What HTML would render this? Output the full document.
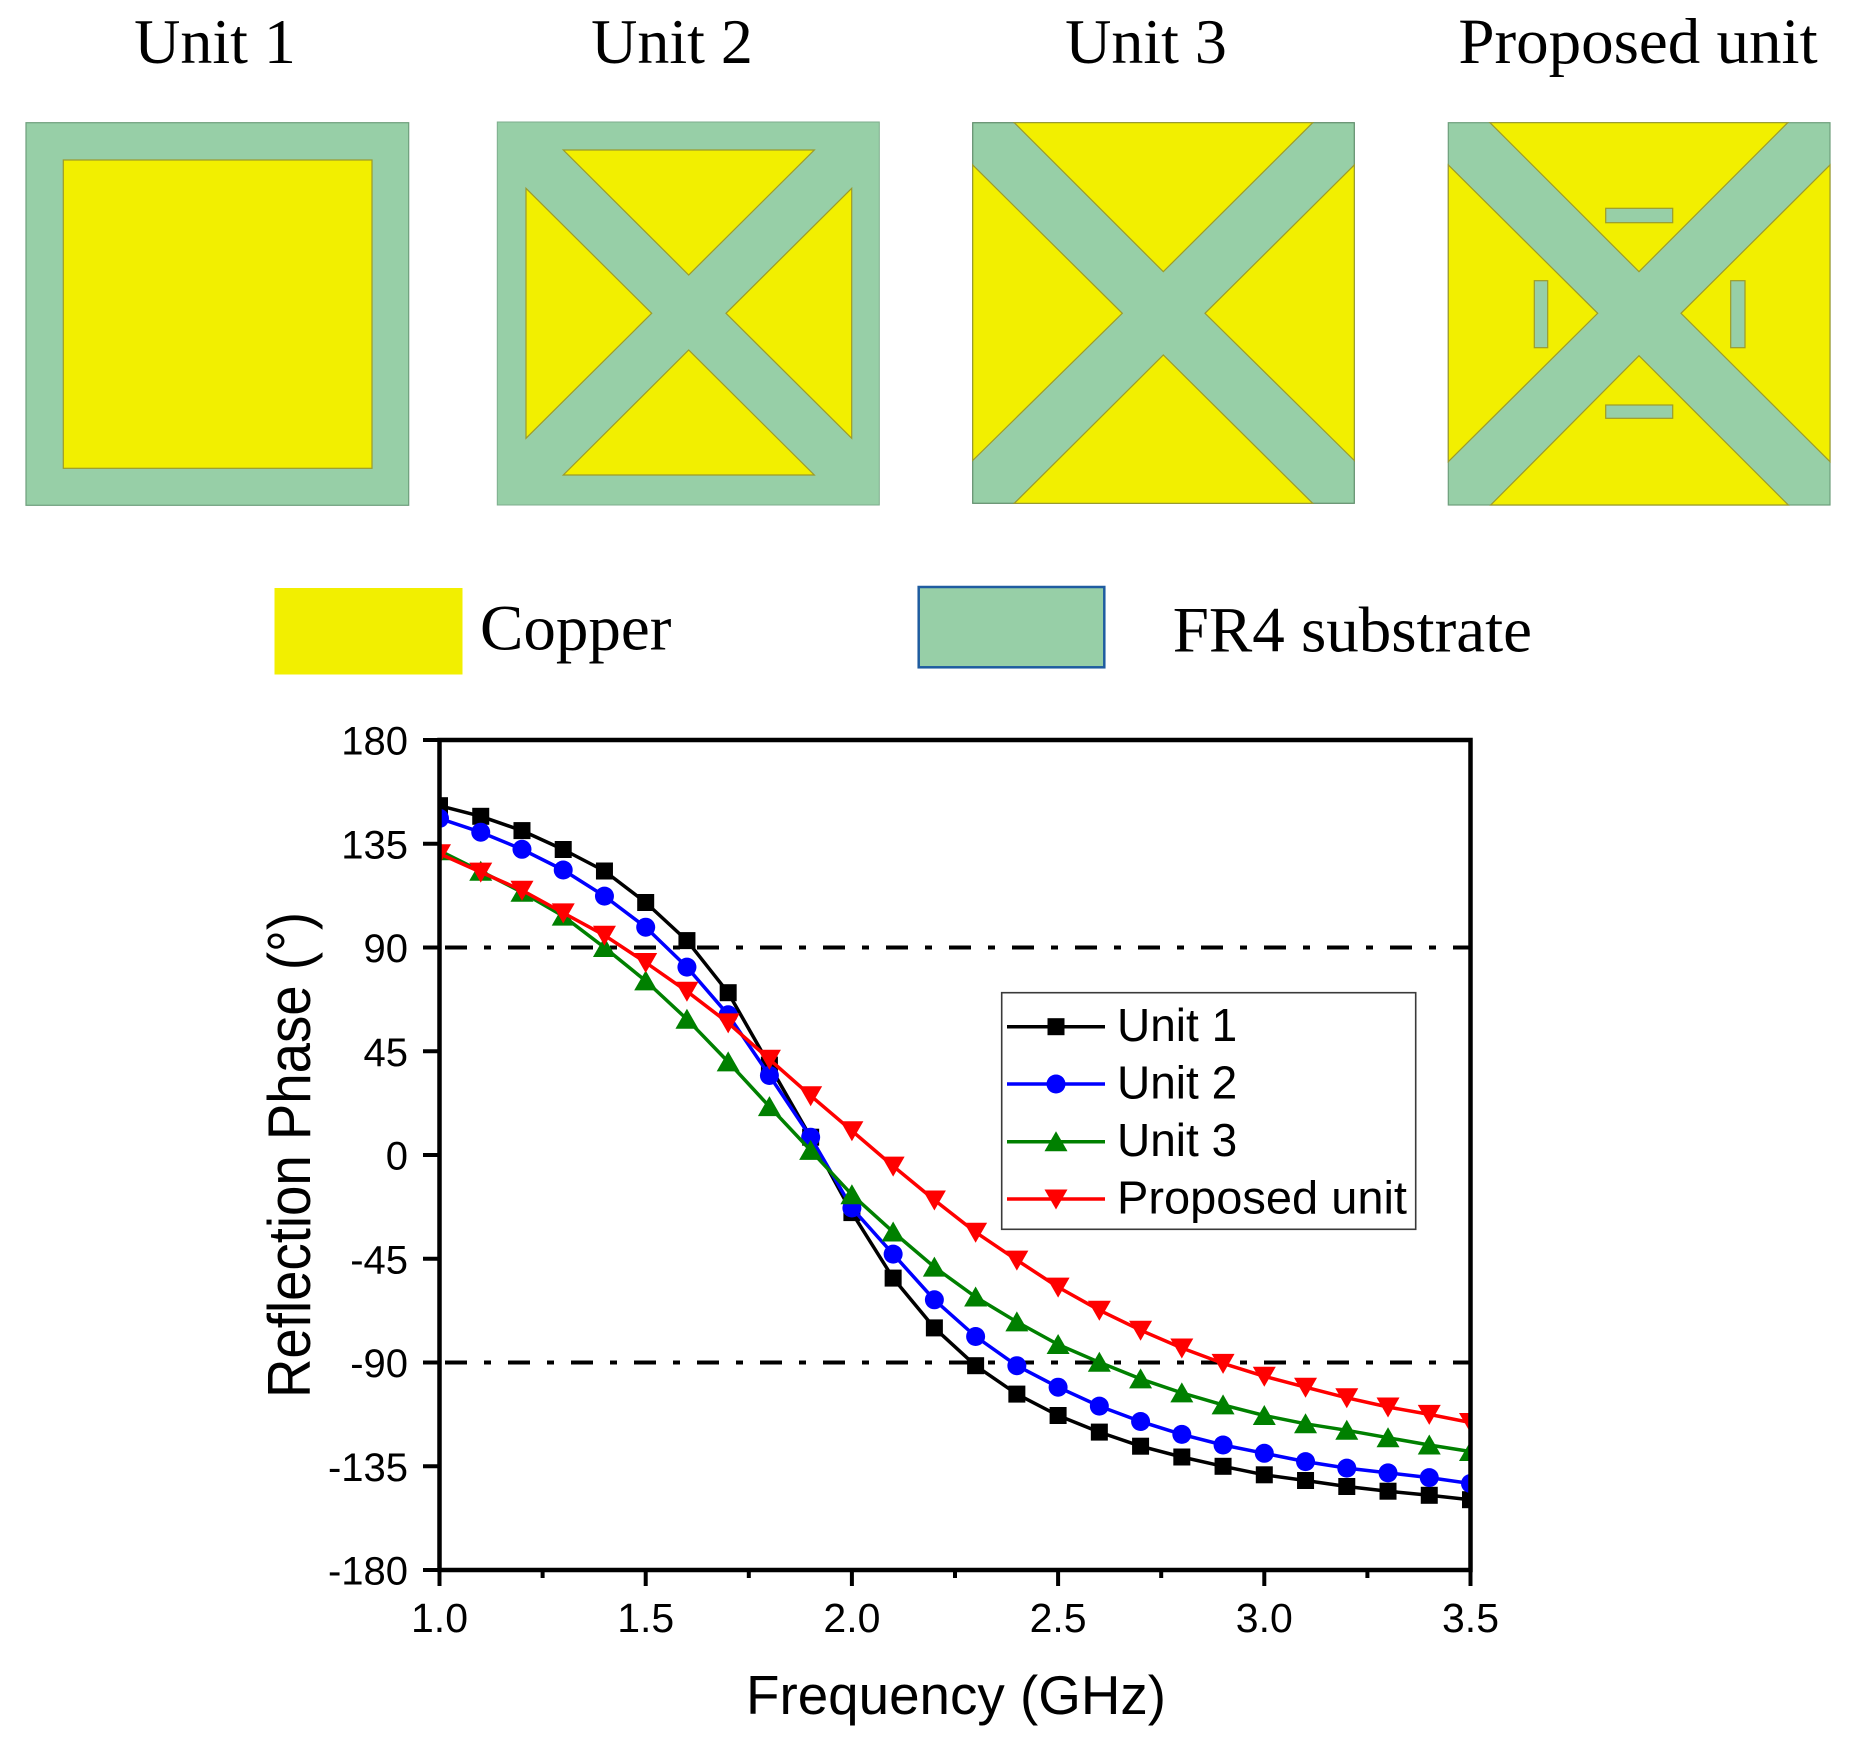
<!DOCTYPE html>
<html>
<head>
<meta charset="utf-8">
<style>
html,body{margin:0;padding:0;background:#fff;}
svg{display:block;}
</style>
</head>
<body>
<svg width="1855" height="1741" viewBox="0 0 1855 1741" xmlns="http://www.w3.org/2000/svg">
<defs>
  <rect id="sq" x="-8.5" y="-8.5" width="17" height="17" fill="#000"/>
  <circle id="ci" cx="0" cy="0" r="9.5" fill="#0000FF"/>
  <polygon id="tu" points="0,-10.5 11.5,9.5 -11.5,9.5" fill="#008000"/>
  <polygon id="td" points="-11.5,-9.5 11.5,-9.5 0,10.5" fill="#FF0000"/>
  <clipPath id="pc"><rect x="439.5" y="740" width="1031" height="830"/></clipPath>
</defs>
<rect x="0" y="0" width="1855" height="1741" fill="#fff"/>

<!-- ===== Top panel: unit cells ===== -->
<g font-family="'Liberation Serif', 'Times New Roman', serif" font-size="64" fill="#000" text-anchor="middle">
  <text x="215" y="63">Unit 1</text>
  <text x="672" y="63">Unit 2</text>
  <text x="1146" y="63">Unit 3</text>
  <text x="1638" y="63" font-size="65">Proposed unit</text>
</g>

<!-- Unit 1 -->
<rect x="26" y="122.7" width="382.7" height="382.6" fill="#97CFA7" stroke="#6E9E7C" stroke-width="1.2"/>
<rect x="63.3" y="160" width="308.7" height="308.3" fill="#F2EF00" stroke="#9C9A2A" stroke-width="1.2"/>

<!-- Unit 2 -->
<rect x="497.3" y="122" width="382" height="383" fill="#97CFA7" stroke="#7EAE8C" stroke-width="1"/>
<g fill="#F2EF00" stroke="#9C9A2A" stroke-width="1.2">
  <polygon points="563.3,150 814.3,150 688.7,275"/>
  <polygon points="526,188.3 526,438.3 651.7,313.3"/>
  <polygon points="851.7,188.3 851.7,438.3 726,313.3"/>
  <polygon points="563.3,475 814.3,475 688.7,350"/>
</g>

<!-- Unit 3 -->
<rect x="972.7" y="122.7" width="381.6" height="380.6" fill="#97CFA7" stroke="#5E8C6A" stroke-width="1.2"/>
<g fill="#F2EF00" stroke="#9C9A2A" stroke-width="1.2">
  <polygon points="1014.3,122.7 1312.7,122.7 1163.3,271.7"/>
  <polygon points="972.7,165 972.7,460.5 1122.3,313.3"/>
  <polygon points="1354.3,165 1354.3,460.5 1205,313.3"/>
  <polygon points="1014.3,503.3 1312.7,503.3 1163.3,355"/>
</g>

<!-- Proposed unit -->
<rect x="1448.3" y="122.7" width="381.7" height="382.3" fill="#97CFA7" stroke="#6E9E7C" stroke-width="1.2"/>
<g fill="#F2EF00" stroke="#9C9A2A" stroke-width="1.2">
  <polygon points="1490,122.7 1787.7,122.7 1639,271.7"/>
  <polygon points="1448.3,165 1448.3,461.7 1597.7,313.3"/>
  <polygon points="1830,165 1830,461.7 1681,313.3"/>
  <polygon points="1490.7,505 1788.3,505 1639,355.7"/>
</g>
<g fill="#97CFA7" stroke="#9C9A2A" stroke-width="1.2">
  <rect x="1605.7" y="208.3" width="67" height="14.4"/>
  <rect x="1605.7" y="405" width="67" height="13.3"/>
  <rect x="1534.3" y="280.7" width="13.4" height="67"/>
  <rect x="1730.7" y="280.7" width="14.3" height="67"/>
</g>

<!-- Material legend -->
<rect x="274.5" y="588" width="188" height="86.5" fill="#F2EF00"/>
<text x="480" y="649.5" font-family="'Liberation Serif', 'Times New Roman', serif" font-size="65" fill="#000">Copper</text>
<rect x="918.7" y="587" width="185.6" height="80.3" fill="#97CFA7" stroke="#1F5CA0" stroke-width="2.5"/>
<text x="1172.7" y="651.7" font-family="'Liberation Serif', 'Times New Roman', serif" font-size="65" fill="#000">FR4 substrate</text>

<!-- ===== Chart ===== -->
<g stroke="#000" stroke-width="4" stroke-dasharray="22 17 7 17" stroke-dashoffset="57.5" fill="none">
  <line x1="439.5" y1="947.5" x2="1470.5" y2="947.5"/>
  <line x1="439.5" y1="1362.5" x2="1470.5" y2="1362.5"/>
</g>

<g clip-path="url(#pc)">
  <polyline fill="none" stroke="#000" stroke-width="3.5" stroke-linejoin="round" points="439.5,805.7 480.74,816.3 521.98,830.6 563.22,849.5 604.46,871.0 645.7,902.5 686.94,940.6 728.18,992.7 769.42,1065.1 810.66,1137.2 851.9,1212.6 893.14,1278.1 934.38,1327.9 975.62,1365.7 1016.86,1394.1 1058.1,1415.5 1099.34,1432.1 1140.58,1446.2 1181.82,1457.0 1223.06,1466.3 1264.3,1474.8 1305.54,1480.5 1346.78,1486.5 1388.02,1491.2 1429.26,1495.3 1470.5,1499.7"/>
  <g>
    <use href="#sq" x="439.5" y="805.7"/><use href="#sq" x="480.74" y="816.3"/><use href="#sq" x="521.98" y="830.6"/><use href="#sq" x="563.22" y="849.5"/><use href="#sq" x="604.46" y="871.0"/><use href="#sq" x="645.7" y="902.5"/><use href="#sq" x="686.94" y="940.6"/><use href="#sq" x="728.18" y="992.7"/><use href="#sq" x="769.42" y="1065.1"/><use href="#sq" x="810.66" y="1137.2"/><use href="#sq" x="851.9" y="1212.6"/><use href="#sq" x="893.14" y="1278.1"/><use href="#sq" x="934.38" y="1327.9"/><use href="#sq" x="975.62" y="1365.7"/><use href="#sq" x="1016.86" y="1394.1"/><use href="#sq" x="1058.1" y="1415.5"/><use href="#sq" x="1099.34" y="1432.1"/><use href="#sq" x="1140.58" y="1446.2"/><use href="#sq" x="1181.82" y="1457.0"/><use href="#sq" x="1223.06" y="1466.3"/><use href="#sq" x="1264.3" y="1474.8"/><use href="#sq" x="1305.54" y="1480.5"/><use href="#sq" x="1346.78" y="1486.5"/><use href="#sq" x="1388.02" y="1491.2"/><use href="#sq" x="1429.26" y="1495.3"/><use href="#sq" x="1470.5" y="1499.7"/>
  </g>
  <polyline fill="none" stroke="#0000FF" stroke-width="3.5" stroke-linejoin="round" points="439.5,818.4 480.74,832.2 521.98,849.3 563.22,870.0 604.46,896.1 645.7,927.2 686.94,967.1 728.18,1014.8 769.42,1075.5 810.66,1137.2 851.9,1208.0 893.14,1254.1 934.38,1299.8 975.62,1336.5 1016.86,1365.7 1058.1,1387.2 1099.34,1406.1 1140.58,1421.5 1181.82,1434.4 1223.06,1445.0 1264.3,1453.3 1305.54,1461.6 1346.78,1468.1 1388.02,1472.9 1429.26,1477.6 1470.5,1483.5"/>
  <g>
    <use href="#ci" x="439.5" y="818.4"/><use href="#ci" x="480.74" y="832.2"/><use href="#ci" x="521.98" y="849.3"/><use href="#ci" x="563.22" y="870.0"/><use href="#ci" x="604.46" y="896.1"/><use href="#ci" x="645.7" y="927.2"/><use href="#ci" x="686.94" y="967.1"/><use href="#ci" x="728.18" y="1014.8"/><use href="#ci" x="769.42" y="1075.5"/><use href="#ci" x="810.66" y="1137.2"/><use href="#ci" x="851.9" y="1208.0"/><use href="#ci" x="893.14" y="1254.1"/><use href="#ci" x="934.38" y="1299.8"/><use href="#ci" x="975.62" y="1336.5"/><use href="#ci" x="1016.86" y="1365.7"/><use href="#ci" x="1058.1" y="1387.2"/><use href="#ci" x="1099.34" y="1406.1"/><use href="#ci" x="1140.58" y="1421.5"/><use href="#ci" x="1181.82" y="1434.4"/><use href="#ci" x="1223.06" y="1445.0"/><use href="#ci" x="1264.3" y="1453.3"/><use href="#ci" x="1305.54" y="1461.6"/><use href="#ci" x="1346.78" y="1468.1"/><use href="#ci" x="1388.02" y="1472.9"/><use href="#ci" x="1429.26" y="1477.6"/><use href="#ci" x="1470.5" y="1483.5"/>
  </g>
  <polyline fill="none" stroke="#008000" stroke-width="3.5" stroke-linejoin="round" points="439.5,850.7 480.74,871.2 521.98,892.2 563.22,916.1 604.46,947.5 645.7,980.9 686.94,1019.2 728.18,1061.9 769.42,1106.6 810.66,1150.4 851.9,1194.7 893.14,1232.0 934.38,1267.1 975.62,1297.0 1016.86,1321.9 1058.1,1344.5 1099.34,1362.3 1140.58,1378.9 1181.82,1392.9 1223.06,1404.9 1264.3,1415.5 1305.54,1423.8 1346.78,1430.3 1388.02,1437.7 1429.26,1445.0 1470.5,1451.5"/>
  <g>
    <use href="#tu" x="439.5" y="850.7"/><use href="#tu" x="480.74" y="871.2"/><use href="#tu" x="521.98" y="892.2"/><use href="#tu" x="563.22" y="916.1"/><use href="#tu" x="604.46" y="947.5"/><use href="#tu" x="645.7" y="980.9"/><use href="#tu" x="686.94" y="1019.2"/><use href="#tu" x="728.18" y="1061.9"/><use href="#tu" x="769.42" y="1106.6"/><use href="#tu" x="810.66" y="1150.4"/><use href="#tu" x="851.9" y="1194.7"/><use href="#tu" x="893.14" y="1232.0"/><use href="#tu" x="934.38" y="1267.1"/><use href="#tu" x="975.62" y="1297.0"/><use href="#tu" x="1016.86" y="1321.9"/><use href="#tu" x="1058.1" y="1344.5"/><use href="#tu" x="1099.34" y="1362.3"/><use href="#tu" x="1140.58" y="1378.9"/><use href="#tu" x="1181.82" y="1392.9"/><use href="#tu" x="1223.06" y="1404.9"/><use href="#tu" x="1264.3" y="1415.5"/><use href="#tu" x="1305.54" y="1423.8"/><use href="#tu" x="1346.78" y="1430.3"/><use href="#tu" x="1388.02" y="1437.7"/><use href="#tu" x="1429.26" y="1445.0"/><use href="#tu" x="1470.5" y="1451.5"/>
  </g>
  <polyline fill="none" stroke="#FF0000" stroke-width="3.5" stroke-linejoin="round" points="439.5,853.7 480.74,872.1 521.98,890.3 563.22,912.9 604.46,935.3 645.7,962.5 686.94,991.3 728.18,1022.9 769.42,1059.3 810.66,1095.7 851.9,1130.8 893.14,1166.1 934.38,1200.0 975.62,1232.2 1016.86,1260.1 1058.1,1287.1 1099.34,1310.2 1140.58,1330.2 1181.82,1348.0 1223.06,1363.4 1264.3,1376.3 1305.54,1387.2 1346.78,1397.8 1388.02,1407.0 1429.26,1414.4 1470.5,1422.5"/>
  <g>
    <use href="#td" x="439.5" y="853.7"/><use href="#td" x="480.74" y="872.1"/><use href="#td" x="521.98" y="890.3"/><use href="#td" x="563.22" y="912.9"/><use href="#td" x="604.46" y="935.3"/><use href="#td" x="645.7" y="962.5"/><use href="#td" x="686.94" y="991.3"/><use href="#td" x="728.18" y="1022.9"/><use href="#td" x="769.42" y="1059.3"/><use href="#td" x="810.66" y="1095.7"/><use href="#td" x="851.9" y="1130.8"/><use href="#td" x="893.14" y="1166.1"/><use href="#td" x="934.38" y="1200.0"/><use href="#td" x="975.62" y="1232.2"/><use href="#td" x="1016.86" y="1260.1"/><use href="#td" x="1058.1" y="1287.1"/><use href="#td" x="1099.34" y="1310.2"/><use href="#td" x="1140.58" y="1330.2"/><use href="#td" x="1181.82" y="1348.0"/><use href="#td" x="1223.06" y="1363.4"/><use href="#td" x="1264.3" y="1376.3"/><use href="#td" x="1305.54" y="1387.2"/><use href="#td" x="1346.78" y="1397.8"/><use href="#td" x="1388.02" y="1407.0"/><use href="#td" x="1429.26" y="1414.4"/><use href="#td" x="1470.5" y="1422.5"/>
  </g>
</g>

<rect x="439.5" y="740" width="1031" height="830" fill="none" stroke="#000" stroke-width="4.5"/>

<g stroke="#000" stroke-width="4">
  <line x1="423" y1="740" x2="439.5" y2="740"/>
  <line x1="423" y1="843.75" x2="439.5" y2="843.75"/>
  <line x1="423" y1="947.5" x2="439.5" y2="947.5"/>
  <line x1="423" y1="1051.25" x2="439.5" y2="1051.25"/>
  <line x1="423" y1="1155" x2="439.5" y2="1155"/>
  <line x1="423" y1="1258.75" x2="439.5" y2="1258.75"/>
  <line x1="423" y1="1362.5" x2="439.5" y2="1362.5"/>
  <line x1="423" y1="1466.25" x2="439.5" y2="1466.25"/>
  <line x1="423" y1="1570" x2="439.5" y2="1570"/>
</g>
<g stroke="#000" stroke-width="4">
  <line x1="439.5" y1="1570" x2="439.5" y2="1586"/>
  <line x1="645.7" y1="1570" x2="645.7" y2="1586"/>
  <line x1="851.9" y1="1570" x2="851.9" y2="1586"/>
  <line x1="1058.1" y1="1570" x2="1058.1" y2="1586"/>
  <line x1="1264.3" y1="1570" x2="1264.3" y2="1586"/>
  <line x1="1470.5" y1="1570" x2="1470.5" y2="1586"/>
  <line x1="542.6" y1="1570" x2="542.6" y2="1578"/>
  <line x1="748.8" y1="1570" x2="748.8" y2="1578"/>
  <line x1="955" y1="1570" x2="955" y2="1578"/>
  <line x1="1161.2" y1="1570" x2="1161.2" y2="1578"/>
  <line x1="1367.4" y1="1570" x2="1367.4" y2="1578"/>
</g>

<g font-family="'Liberation Sans', Arial, sans-serif" fill="#000">
  <g font-size="40" text-anchor="end">
    <text x="408" y="754.5">180</text>
    <text x="408" y="858.25">135</text>
    <text x="408" y="962">90</text>
    <text x="408" y="1065.75">45</text>
    <text x="408" y="1169.5">0</text>
    <text x="408" y="1273.25">-45</text>
    <text x="408" y="1377">-90</text>
    <text x="408" y="1480.75">-135</text>
    <text x="408" y="1584.5">-180</text>
  </g>
  <g font-size="41" text-anchor="middle">
    <text x="439.5" y="1632">1.0</text>
    <text x="645.7" y="1632">1.5</text>
    <text x="851.9" y="1632">2.0</text>
    <text x="1058.1" y="1632">2.5</text>
    <text x="1264.3" y="1632">3.0</text>
    <text x="1470.5" y="1632">3.5</text>
  </g>
  <text x="746" y="1714" font-size="55" textLength="420" lengthAdjust="spacingAndGlyphs">Frequency (GHz)</text>
  <text transform="translate(310,1398) rotate(-90)" x="0" y="0" font-size="60" textLength="486" lengthAdjust="spacingAndGlyphs">Reflection Phase (°)</text>
</g>

<rect x="1001.7" y="992.7" width="414" height="236.6" fill="#fff" stroke="#3a3a3a" stroke-width="1.6"/>
<g stroke-width="3.5">
  <line x1="1007" y1="1026.7" x2="1105" y2="1026.7" stroke="#000"/>
  <line x1="1007" y1="1084" x2="1105" y2="1084" stroke="#0000FF"/>
  <line x1="1007" y1="1141.7" x2="1105" y2="1141.7" stroke="#008000"/>
  <line x1="1007" y1="1199" x2="1105" y2="1199" stroke="#FF0000"/>
</g>
<use href="#sq" x="1056" y="1026.7"/>
<use href="#ci" x="1056" y="1084"/>
<use href="#tu" x="1056" y="1141.7"/>
<use href="#td" x="1056" y="1199"/>
<g font-family="'Liberation Sans', Arial, sans-serif" font-size="46" fill="#000">
  <text x="1117" y="1041">Unit 1</text>
  <text x="1117" y="1098.5">Unit 2</text>
  <text x="1117" y="1156">Unit 3</text>
  <text x="1117" y="1213.5" textLength="290" lengthAdjust="spacingAndGlyphs">Proposed unit</text>
</g>
</svg>
</body>
</html>
